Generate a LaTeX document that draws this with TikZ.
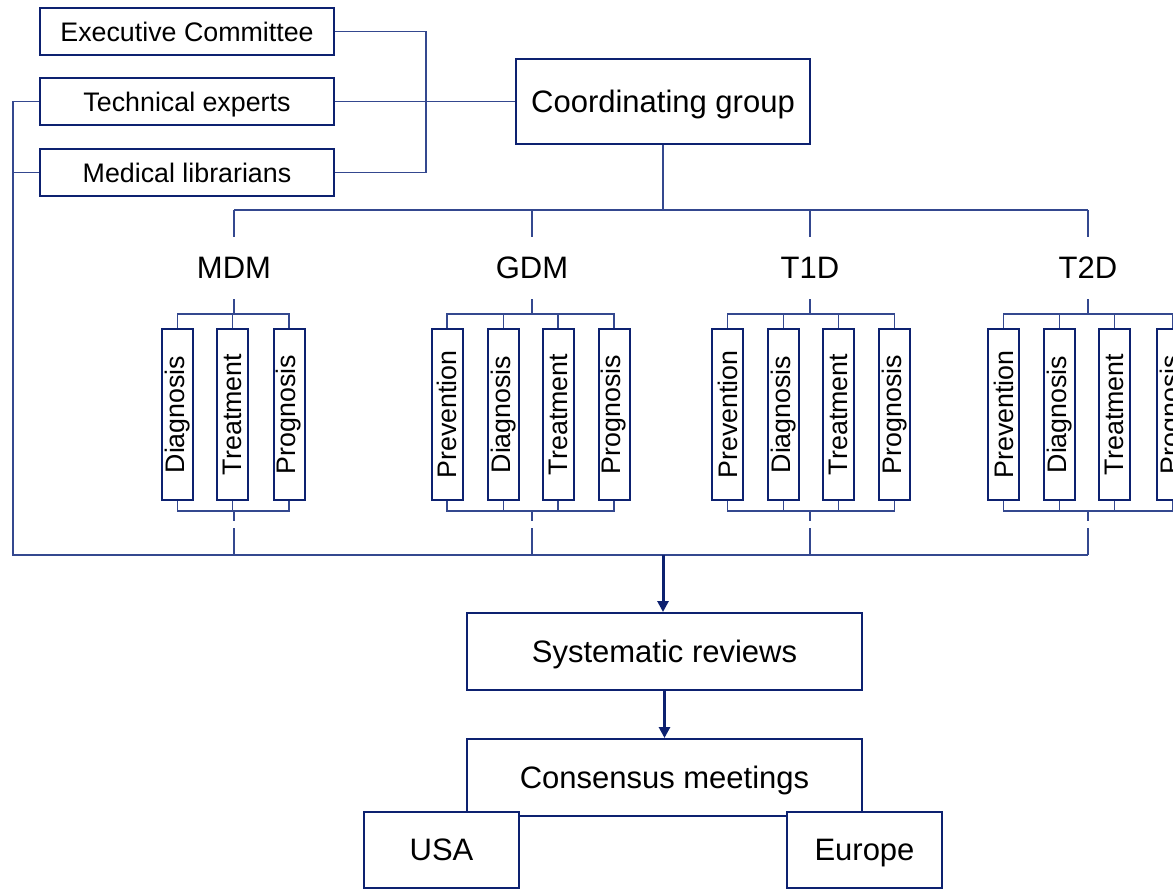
\documentclass[tikz,border=0pt]{standalone}
\usepackage{fontspec}
\setmainfont{Liberation Sans}
\usetikzlibrary{arrows.meta}
\definecolor{navy}{HTML}{0D2170}
\definecolor{linec}{HTML}{34488F}
\tikzset{
  box/.style={draw=navy, line width=2pt, fill=white, inner sep=0pt, font=\fontsize{26.8}{32}\selectfont},
  hbox/.style={box, text depth=0pt},
  bigbox/.style={box, text depth=0pt, font=\fontsize{31}{37}\selectfont},
  vbox/.style={box, rotate=90, minimum width=171pt, minimum height=31pt},
  conn/.style={draw=linec, line width=1.4pt},
  arr/.style={draw=navy, line width=3pt, -{Triangle[length=11pt,width=11pt]}},
  lbl/.style={inner sep=0pt, font=\fontsize{31}{37}\selectfont}
}
\begin{document}
\begin{tikzpicture}[x=1pt,y=-1pt]
\useasboundingbox (0,0) rectangle (1173,889);
\clip (0,0) rectangle (1173,889);
\fill[white] (0,0) rectangle (1173,889);

% top-left boxes
\node[hbox, minimum width=294pt, minimum height=47pt] (exec) at (187,31.5) {Executive Committee};
\node[hbox, minimum width=294pt, minimum height=47pt] (tech) at (187,101.5) {Technical experts};
\node[hbox, minimum width=294pt, minimum height=47pt] (med) at (187,172.5) {Medical librarians};
\node[bigbox, minimum width=294pt, minimum height=85pt] (coord) at (663,101.5) {Coordinating group};

\coordinate (jx) at (426,0);
\draw[conn] (exec.east) -- (exec.east -| jx) -- (med.east -| jx) -- (med.east);
\draw[conn] (tech.east) -- (tech.east -| coord.west);

% group labels
\node[lbl] (mdm) at (234,268) {MDM};
\node[lbl] (gdm) at (532,268) {GDM};
\node[lbl] (tone) at (810,268) {T1D};
\node[lbl] (ttwo) at (1088,268) {T2D};

% top distribution bar
\coordinate (topbar) at (0,210);
\coordinate (labtop) at (0,237);
\coordinate (labbot) at (0,299);
\coordinate (subT) at (0,314);
\coordinate (subB) at (0,511);
\coordinate (stubA) at (0,521);
\coordinate (stubB) at (0,528);
\coordinate (botbar) at (0,555);
\draw[conn] (coord.south) -- (coord.south |- topbar);
\draw[conn] (mdm |- topbar) -- (ttwo |- topbar);
\foreach \n in {mdm,gdm,tone,ttwo}{
  \draw[conn] (\n |- topbar) -- (\n |- labtop);
  \draw[conn] (\n |- labbot) -- (\n |- subT);
  \draw[conn] (\n |- subB) -- (\n |- stubA);
  \draw[conn] (\n |- stubB) -- (\n |- botbar);
}

% MDM
\node[vbox] (m1) at (177.5,414.5) {Diagnosis};
\node[vbox] (m2) at (232.5,414.5) {Treatment};
\node[vbox] (m3) at (289,414.5) {Prognosis};
\draw[conn] (m1.east) -- (m1.east |- subT) -- (m3.east |- subT) -- (m3.east);
\draw[conn] (m2.east) -- (m2.east |- subT);
\draw[conn] (m1.west) -- (m1.west |- subB) -- (m3.west |- subB) -- (m3.west);
\draw[conn] (m2.west) -- (m2.west |- subB);

% GDM
\node[vbox] (g1) at (447,414.5) {Prevention};
\node[vbox] (g2) at (503.5,414.5) {Diagnosis};
\node[vbox] (g3) at (558,414.5) {Treatment};
\node[vbox] (g4) at (614,414.5) {Prognosis};
\draw[conn] (g1.east) -- (g1.east |- subT) -- (g4.east |- subT) -- (g4.east);
\draw[conn] (g2.east) -- (g2.east |- subT);
\draw[conn] (g3.east) -- (g3.east |- subT);
\draw[conn] (g1.west) -- (g1.west |- subB) -- (g4.west |- subB) -- (g4.west);
\draw[conn] (g2.west) -- (g2.west |- subB);
\draw[conn] (g3.west) -- (g3.west |- subB);

% T1D
\node[vbox] (a1) at (727.5,414.5) {Prevention};
\node[vbox] (a2) at (783.5,414.5) {Diagnosis};
\node[vbox] (a3) at (838.5,414.5) {Treatment};
\node[vbox] (a4) at (894.5,414.5) {Prognosis};
\draw[conn] (a1.east) -- (a1.east |- subT) -- (a4.east |- subT) -- (a4.east);
\draw[conn] (a2.east) -- (a2.east |- subT);
\draw[conn] (a3.east) -- (a3.east |- subT);
\draw[conn] (a1.west) -- (a1.west |- subB) -- (a4.west |- subB) -- (a4.west);
\draw[conn] (a2.west) -- (a2.west |- subB);
\draw[conn] (a3.west) -- (a3.west |- subB);

% T2D
\node[vbox] (b1) at (1003.5,414.5) {Prevention};
\node[vbox] (b2) at (1059.5,414.5) {Diagnosis};
\node[vbox] (b3) at (1114.5,414.5) {Treatment};
\node[vbox] (b4) at (1172.5,414.5) {Prognosis};
\draw[conn] (b1.east) -- (b1.east |- subT) -- (b4.east |- subT) -- (b4.east);
\draw[conn] (b2.east) -- (b2.east |- subT);
\draw[conn] (b3.east) -- (b3.east |- subT);
\draw[conn] (b1.west) -- (b1.west |- subB) -- (b4.west |- subB) -- (b4.west);
\draw[conn] (b2.west) -- (b2.west |- subB);
\draw[conn] (b3.west) -- (b3.west |- subB);

% left return line and bottom bar
\coordinate (lx) at (13,0);
\draw[conn] (tech.west) -- (tech.west -| lx) -- (lx |- botbar) -- (ttwo |- botbar);
\draw[conn] (med.west) -- (med.west -| lx);

% lower flow
\node[bigbox, minimum width=395pt, minimum height=77pt] (sys) at (664.5,651.5) {Systematic reviews};
\node[bigbox, minimum width=395pt, minimum height=77pt] (cons) at (664.5,777.5) {Consensus meetings};
\node[bigbox, minimum width=155pt, minimum height=76pt] (usa) at (441.5,850) {USA};
\node[bigbox, minimum width=155pt, minimum height=76pt] (eur) at (864.5,850) {Europe};

\coordinate (arrx) at (663,0);
\draw[arr] (arrx |- botbar) -- (arrx |- sys.north);
\draw[arr] (sys.south) -- (cons.north);
\end{tikzpicture}
\end{document}
